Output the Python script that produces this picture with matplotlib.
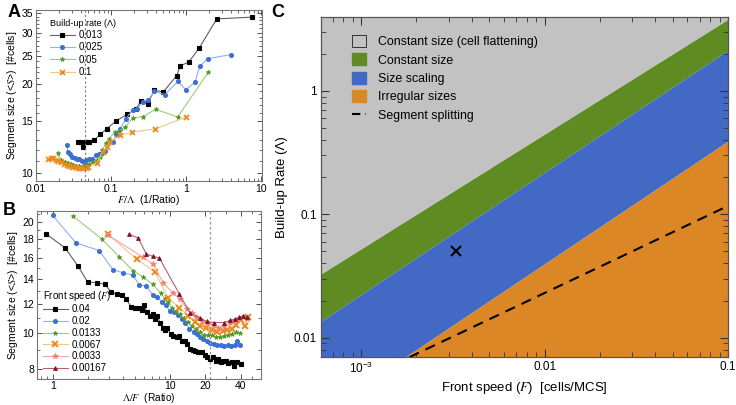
import matplotlib
matplotlib.use("Agg")
import matplotlib.pyplot as plt
from matplotlib.patches import Patch
from matplotlib.lines import Line2D
from matplotlib.ticker import FixedLocator, NullFormatter, FixedFormatter

plt.rcParams['font.family'] = ['Liberation Sans', 'DejaVu Sans']
plt.rcParams['mathtext.fontset'] = 'stix'

# ---------------- Panel A data: x = F/Lambda, y = <S> ----------------
a_labels = ['0.013', '0.025', '0.05', '0.1']
a_x_0013 = [0.0363, 0.039, 0.042, 0.0446, 0.0479, 0.0504, 0.0598, 0.072, 0.0885, 0.1167, 0.165,
            0.2155, 0.2535, 0.308, 0.3776, 0.4977, 0.751, 0.839, 1.086, 1.504, 2.565, 7.66]
a_y_0013 = [12.72, 12.78, 12.26, 12.75, 12.78, 12.72, 12.92, 13.54, 14.17, 15.03, 15.84,
            16.55, 17.62, 17.21, 19.11, 18.86, 21.43, 23.17, 23.8, 26.62, 33.4, 33.86]
a_x_0025 = [0.0259, 0.0265, 0.0287, 0.0305, 0.0328, 0.0352, 0.0378, 0.0406, 0.0437, 0.0469, 0.0514,
            0.0558, 0.063, 0.069, 0.0766, 0.084, 0.1055, 0.118, 0.132, 0.157, 0.195, 0.22, 0.265,
            0.314, 0.378, 0.52, 0.782, 0.99, 1.318, 1.523, 1.965, 3.94]
a_y_0025 = [12.5, 11.76, 11.58, 11.36, 11.22, 11.13, 11.13, 10.98, 10.9, 11.07, 11.13,
            11.18, 11.51, 11.58, 11.67, 11.91, 12.78, 13.54, 14.15, 15.27, 16.38, 16.51, 17.44,
            17.67, 18.96, 18.46, 20.5, 19.2, 20.35, 23.06, 24.48, 25.26]
a_x_005 = [0.0195, 0.0216, 0.0244, 0.027, 0.0293, 0.0315, 0.0341, 0.037, 0.0402, 0.0437, 0.0474,
           0.0514, 0.0581, 0.0644, 0.0713, 0.0766, 0.0845, 0.094, 0.113, 0.129, 0.155, 0.195,
           0.265, 0.394, 0.774, 1.98]
a_y_005 = [11.67, 11.07, 10.93, 10.79, 10.7, 10.65, 10.59, 10.56, 10.5, 10.59, 10.65,
           10.75, 10.93, 11.07, 11.31, 11.95, 12.62, 13.05, 13.82, 13.93, 14.31, 15.42,
           15.54, 16.47, 15.5, 22.0]
a_x_01 = [0.0146, 0.0158, 0.017, 0.0183, 0.0198, 0.0216, 0.0236, 0.0257, 0.0278, 0.0305, 0.0334,
          0.0363, 0.039, 0.0423, 0.0464, 0.0498, 0.0644, 0.0775, 0.0877, 0.097, 0.132, 0.192,
          0.386, 0.99]
a_y_01 = [11.13, 11.22, 11.27, 11.1, 10.98, 10.9, 10.77, 10.65, 10.56, 10.5, 10.46,
          10.42, 10.37, 10.37, 10.42, 10.5, 10.84, 11.76, 12.29, 12.75, 13.43, 13.79,
          14.12, 15.47]
a_vline = 0.045

# ---------------- Panel B data: x = Lambda/F, y = <S> ----------------
b_labels = ['0.04', '0.02', '0.0133', '0.0067', '0.0033', '0.00167']
b_x_004 = [0.882, 1.276, 1.633, 1.988, 2.386, 2.808, 3.14, 3.533, 3.875, 4.242, 4.679, 5.002,
           5.41, 5.77, 6.04, 6.37, 6.75, 7.12, 7.45, 7.79, 8.22, 8.66, 9.07, 9.48, 10.14, 10.67,
           11.4, 12.0, 12.58, 13.42, 14.05, 14.81, 15.62, 16.34, 17.43, 18.63, 19.88, 20.8,
           21.93, 23.26, 24.67, 25.81, 27.05, 28.48, 30.02, 31.52, 33.57, 35.13, 37.04, 40.07]
b_y_004 = [18.58, 17.03, 15.25, 13.75, 13.7, 13.55, 12.92, 12.74, 12.66, 12.35, 11.77, 11.72,
           11.67, 11.55, 11.89, 11.38, 11.13, 11.25, 10.9, 11.11, 10.68, 10.29, 10.2, 10.35, 9.93,
           9.82, 9.73, 9.82, 9.52, 9.52, 9.33, 9.04, 9.0, 8.95, 8.89, 8.86, 8.71, 8.59, 8.5, 8.6,
           8.41, 8.5, 8.32, 8.39, 8.41, 8.29, 8.32, 8.12, 8.36, 8.24]
b_x_002 = [1.0, 1.58, 2.496, 3.247, 4.0, 4.81, 5.47, 6.28, 7.12, 7.7, 8.5, 9.24, 10.0, 10.82,
           11.7, 12.66, 13.56, 14.66, 16.02, 16.99, 18.03, 19.3, 20.67, 22.14, 23.72, 25.41,
           27.22, 29.15, 31.23, 33.45, 35.83, 37.62, 39.9]
b_y_002 = [20.87, 17.57, 16.75, 14.88, 14.57, 14.38, 13.51, 13.43, 12.7, 12.54, 12.16, 11.89,
           11.48, 11.38, 11.21, 10.9, 10.67, 10.27, 10.08, 9.93, 9.77, 9.62, 9.53, 9.42, 9.33,
           9.3, 9.27, 9.24, 9.27, 9.24, 9.3, 9.5, 9.27]
b_x_00133 = [1.504, 2.622, 3.711, 4.885, 5.945, 7.12, 8.33, 9.07, 9.67, 10.4, 11.25, 12.17,
             13.17, 14.24, 15.4, 16.66, 18.03, 19.5, 21.09, 22.8, 24.67, 26.69, 28.87, 31.23,
             33.78, 36.54, 39.53]
b_y_00133 = [20.74, 18.01, 16.1, 14.72, 14.2, 13.55, 12.86, 12.38, 12.12, 11.71, 11.46, 11.25,
             10.97, 10.7, 10.47, 10.27, 10.08, 9.87, 9.85, 9.85, 9.77, 9.74, 9.8, 9.87, 9.96,
             10.05, 9.99]
b_x_00067 = [2.949, 5.21, 7.45, 9.67, 12.05, 14.38, 16.34, 18.2, 20.47, 22.8, 25.41, 28.14,
             30.92, 33.78, 36.9, 40.7, 43.6, 45.96]
b_y_00067 = [18.58, 15.87, 14.65, 12.44, 11.71, 11.14, 10.73, 10.47, 10.35, 10.18, 10.05, 10.15,
             10.21, 10.27, 10.5, 10.87, 10.46, 11.07]
b_x_00033 = [2.979, 5.92, 7.16, 8.77, 10.61, 12.17, 14.05, 15.4, 16.82, 18.63, 20.55, 23.4,
             25.81, 28.87, 32.47, 35.83, 38.97, 42.16, 45.6]
b_y_00033 = [18.42, 16.06, 15.4, 13.68, 12.86, 12.35, 11.6, 11.35, 11.07, 10.78, 10.67, 10.5,
             10.35, 10.46, 10.68, 10.78, 10.95, 11.08, 10.95]
b_x_000167 = [4.455, 5.356, 6.28, 7.12, 8.1, 11.98, 14.75, 17.88, 20.55, 23.58, 29.15, 32.67,
              35.83, 38.97, 42.16, 45.07]
b_y_000167 = [18.58, 18.12, 16.4, 16.16, 16.0, 12.8, 11.37, 10.98, 10.75, 10.68, 10.68, 10.83,
              10.91, 11.03, 11.13, 11.08]
b_vline = 22.0

# ---------------- Panel C data: phase diagram ----------------
c_F_edges = [6.0e-4, 0.1]
c_lam_flat = [0.0326, 3.80]      # gray / green boundary
c_lam_const = [0.0135, 2.14]     # green / blue boundary
c_lam_scale = [0.00242, 0.392]   # blue / orange boundary
c_F_split = [1.5e-3, 0.1]
c_lam_split = [0.00604, 0.117]
c_marker_F = [0.0033]
c_marker_lam = [0.05]
c_labels = ['Constant size (cell flattening)', 'Constant size', 'Size scaling',
            'Irregular sizes', 'Segment splitting']

W, H = 736, 405
fig = plt.figure(figsize=(W / 100, H / 100), dpi=100)

def fr(l, t, r, b):
    return [l / W, 1 - b / H, (r - l) / W, (b - t) / H]

axA = fig.add_axes(fr(36, 10, 262, 181))
axB = fig.add_axes(fr(37, 210.7, 261, 379))
axC = fig.add_axes(fr(321, 17.3, 728, 356.7))

tick_kw = dict(direction='in', top=True, right=True, colors='#333333', labelcolor='black')

def style_small(ax):
    for s in ax.spines.values():
        s.set_color('#777777')
        s.set_linewidth(0.8)
    ax.tick_params(which='major', length=3.5, width=0.6, labelsize=7.5, pad=2, **tick_kw)
    ax.tick_params(which='minor', length=2, width=0.5, **tick_kw)

# ---- Panel A ----
styleA = [
    (a_x_0013, a_y_0013, '#606060', 'black', 's', 2.2, 0.8),
    (a_x_0025, a_y_0025, '#8fb0ec', '#3b6fd6', 'o', 2.8, 0.8),
    (a_x_005, a_y_005, '#9ccc7c', '#4f9a22', '*', 3.4, 0.6),
    (a_x_01, a_y_01, '#f5c48c', '#ee8a1c', 'x', 3.6, 1.3),
]
for (x, y, lc, mc, m, ms, mew), lab in zip(styleA, a_labels):
    axA.plot(x, y, color=lc, lw=0.8, marker=m, ms=ms, mfc=mc, mec=mc, mew=mew, label=lab)
axA.axvline(a_vline, color='#777777', ls=(0, (2, 2)), lw=0.8)
axA.set_xscale('log')
axA.set_yscale('log')
axA.set_xlim(0.01, 10.3)
axA.set_ylim(9.4, 35.8)
axA.yaxis.set_major_locator(FixedLocator([10, 15, 20, 25, 30, 35]))
axA.yaxis.set_major_formatter(FixedFormatter(['10', '15', '20', '25', '30', '35']))
axA.yaxis.set_minor_locator(FixedLocator([v for v in range(10, 36) if v % 5]))
axA.yaxis.set_minor_formatter(NullFormatter())
axA.xaxis.set_major_locator(FixedLocator([0.01, 0.1, 1, 10]))
axA.xaxis.set_major_formatter(FixedFormatter(['0.01', '0.1', '1', '10']))
axA.xaxis.set_minor_locator(FixedLocator([k * 10.0 ** e for e in (-2, -1, 0) for k in range(2, 10)]))
axA.xaxis.set_minor_formatter(NullFormatter())
style_small(axA)
axA.set_xlabel(r'$F/\Lambda$  (1/Ratio)', fontsize=7.5, labelpad=-0.5)
axA.set_ylabel(r'Segment size (<$S$>)  [#cells]', fontsize=7.5, labelpad=2)
legA = axA.legend(title='Build-up rate (Λ)', loc='upper left', frameon=False, fontsize=7,
                  title_fontsize=6.5, handlelength=2.6, handletextpad=0.4, labelspacing=0.25,
                  borderaxespad=0.3, bbox_to_anchor=(0.03, 0.99))
legA._legend_box.align = 'left'

# ---- Panel B ----
styleB = [
    (b_x_004, b_y_004, '#606060', 'black', 's', 2.2, 0.8),
    (b_x_002, b_y_002, '#8fb0ec', '#3b6fd6', 'o', 2.8, 0.8),
    (b_x_00133, b_y_00133, '#9ccc7c', '#4f9a22', '*', 3.4, 0.6),
    (b_x_00067, b_y_00067, '#f5c48c', '#ee8a1c', 'x', 4.0, 1.4),
    (b_x_00033, b_y_00033, '#f4a9a0', '#f08070', '*', 3.8, 0.6),
    (b_x_000167, b_y_000167, '#b06070', '#7d1424', '^', 2.8, 0.6),
]
for (x, y, lc, mc, m, ms, mew), lab in zip(styleB, b_labels):
    axB.plot(x, y, color=lc, lw=0.8, marker=m, ms=ms, mfc=mc, mec=mc, mew=mew, label=lab)
axB.axvline(b_vline, color='#999999', ls=(0, (2, 2)), lw=0.9)
axB.set_xscale('log')
axB.set_yscale('log')
axB.set_xlim(0.735, 59.7)
axB.set_ylim(7.5, 21.5)
axB.xaxis.set_major_locator(FixedLocator([1, 10, 20, 40, 60]))
axB.xaxis.set_major_formatter(FixedFormatter(['1', '10', '20', '40', '60']))
axB.xaxis.set_minor_locator(FixedLocator([0.8, 0.9] + [k for k in range(2, 10)] + [30, 50]))
axB.xaxis.set_minor_formatter(NullFormatter())
axB.yaxis.set_major_locator(FixedLocator([8, 10, 12, 14, 16, 18, 20]))
axB.yaxis.set_major_formatter(FixedFormatter(['8', '10', '12', '14', '16', '18', '20']))
axB.yaxis.set_minor_locator(FixedLocator([9, 11, 13, 15, 17, 19, 21]))
axB.yaxis.set_minor_formatter(NullFormatter())
style_small(axB)
axB.tick_params(axis='x', which='major', pad=1.5)
axB.set_xlabel(r'$\Lambda/F$  (Ratio)', fontsize=7.3, labelpad=0)
axB.set_ylabel(r'Segment size (<$S$>)  [#cells]', fontsize=7.5, labelpad=2)
legB = axB.legend(title=r'Front speed ($F$)', loc='lower left', frameon=False, fontsize=7,
                  title_fontsize=7, handlelength=2.6, handletextpad=0.4, labelspacing=0.18,
                  borderaxespad=0.2, bbox_to_anchor=(0.0, 0.0))
legB._legend_box.align = 'left'

# ---- Panel C ----
c_gray, c_green, c_blue, c_orange = '#c2c2c2', '#5e8c22', '#426ac4', '#db8726'
ylo, yhi = 0.00702, 3.95
axC.fill_between(c_F_edges, c_lam_flat, [yhi * 5, yhi * 5], color=c_gray, lw=0)
axC.fill_between(c_F_edges, c_lam_const, c_lam_flat, color=c_green, lw=0)
axC.fill_between(c_F_edges, c_lam_scale, c_lam_const, color=c_blue, lw=0)
axC.fill_between(c_F_edges, [ylo / 5, ylo / 5], c_lam_scale, color=c_orange, lw=0)
axC.plot(c_F_split, c_lam_split, color='black', ls=(0, (5, 3.5)), lw=1.5)
axC.plot(c_marker_F, c_marker_lam, ls='none', marker='x', color='black', ms=7, mew=1.5)
axC.set_xscale('log')
axC.set_yscale('log')
axC.set_xlim(6.04e-4, 0.1)
axC.set_ylim(ylo, yhi)
axC.xaxis.set_major_locator(FixedLocator([1e-3, 1e-2, 1e-1]))
axC.xaxis.set_major_formatter(FixedFormatter([r'$\mathregular{10^{-3}}$', '0.01', '0.1']))
axC.xaxis.set_minor_locator(FixedLocator([k * 10.0 ** e for e in (-4, -3, -2) for k in range(2, 10)]))
axC.xaxis.set_minor_formatter(NullFormatter())
axC.yaxis.set_major_locator(FixedLocator([0.01, 0.1, 1]))
axC.yaxis.set_major_formatter(FixedFormatter(['0.01', '0.1', '1']))
axC.yaxis.set_minor_locator(FixedLocator([k * 10.0 ** e for e in (-3, -2, -1, 0) for k in range(2, 10)]))
axC.yaxis.set_minor_formatter(NullFormatter())
for s in axC.spines.values():
    s.set_color('#555555')
    s.set_linewidth(0.9)
axC.tick_params(which='major', length=6, width=0.8, labelsize=8.5, pad=3, **tick_kw)
axC.tick_params(which='minor', length=3.5, width=0.6, **tick_kw)
axC.set_xlabel(r'Front speed ($F$)  [cells/MCS]', fontsize=9.5, labelpad=3)
axC.set_ylabel('Build-up Rate (Λ)', fontsize=9.5, labelpad=4)
handles = [Patch(facecolor=c_gray, edgecolor='#333333', lw=0.7),
           Patch(facecolor=c_green, edgecolor=c_green),
           Patch(facecolor=c_blue, edgecolor=c_blue),
           Patch(facecolor=c_orange, edgecolor=c_orange),
           Line2D([0], [0], color='black', ls=(0, (4, 2.5)), lw=1.5)]
axC.legend(handles, c_labels, loc='upper left', frameon=False, fontsize=8.9,
           handlelength=1.1, handleheight=1.1, handletextpad=1.0, labelspacing=0.42,
           bbox_to_anchor=(0.065, 0.962), borderaxespad=0)

# panel letters
fig.text(8 / W, 1 - 17 / H, 'A', fontsize=13, fontweight='bold')
fig.text(3 / W, 1 - 215 / H, 'B', fontsize=13, fontweight='bold')
fig.text(271 / W, 1 - 17 / H, 'C', fontsize=13, fontweight='bold')

fig.savefig('out.png', dpi=100)
